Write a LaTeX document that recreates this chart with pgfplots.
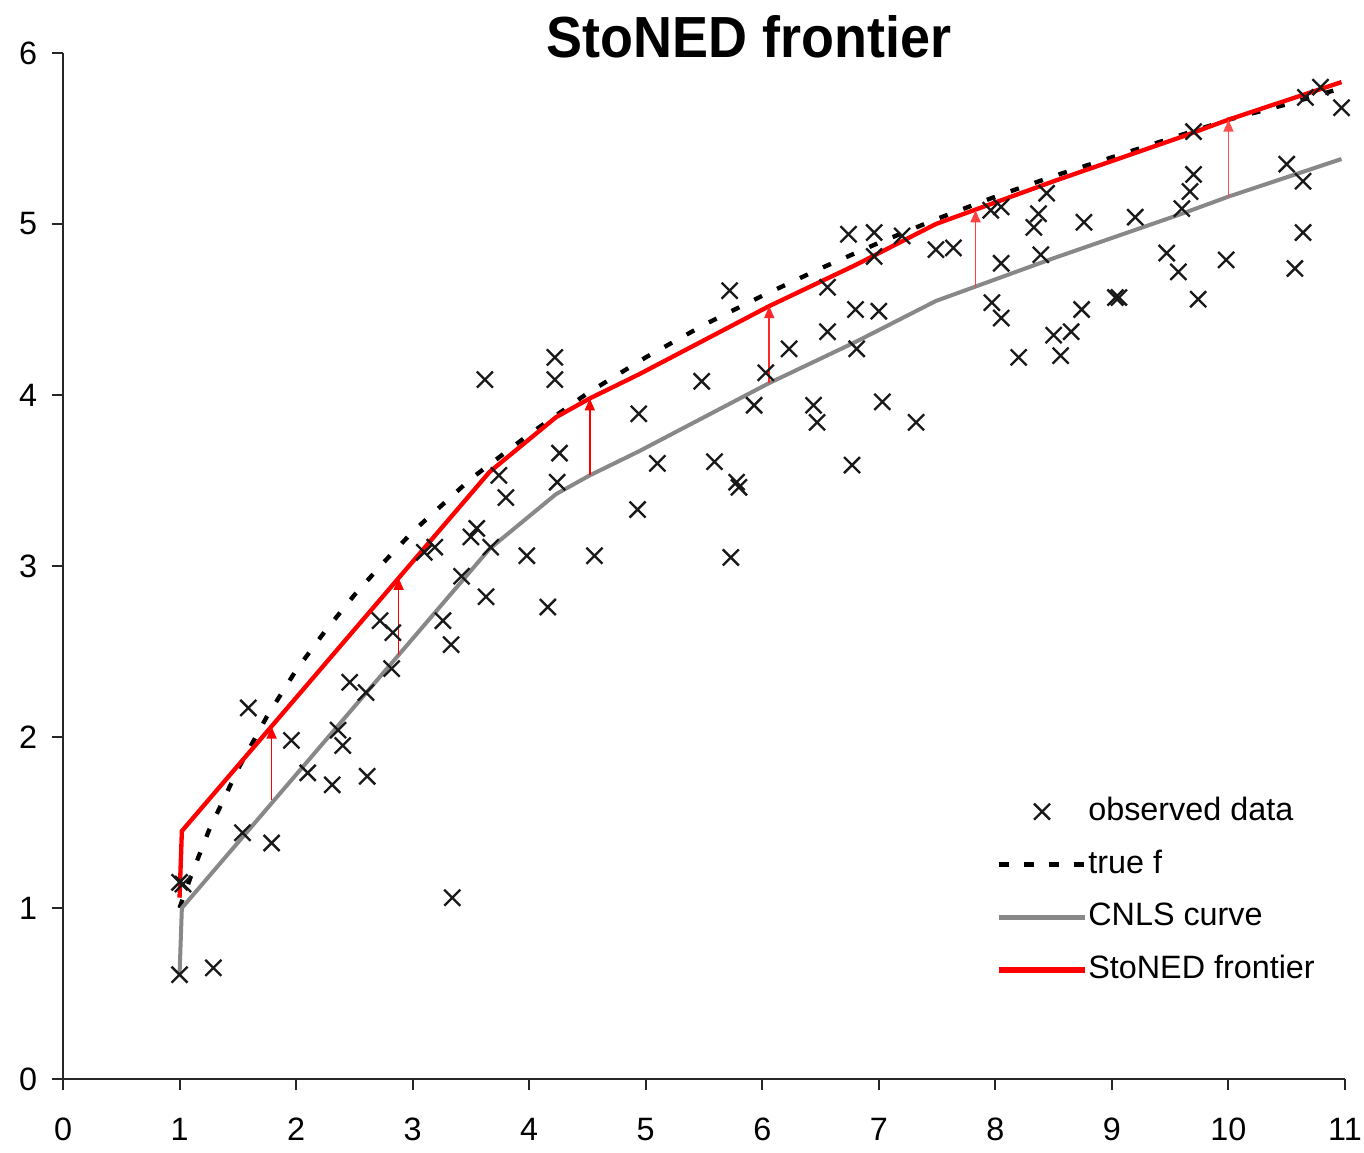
\documentclass[border=0pt]{standalone}
\usepackage{pgfplots}
\pgfplotsset{compat=1.18}
\usepackage{fontspec}
\setmainfont{Liberation Sans}
\usetikzlibrary{arrows.meta}
\definecolor{cnlsgray}{RGB}{136,136,136}
\definecolor{mk}{RGB}{25,25,25}
\pgfplotsset{
  markleg/.style={legend image code/.code={\draw[##1] plot coordinates {(13pt,0pt)};}},
  lineleg/.style={legend image code/.code={\draw[##1, line width=1.5pt] (0pt,0pt) -- (26pt,0pt);}},
  dashleg/.style={legend image code/.code={\draw[##1, dash pattern=on 3pt off 4.5pt] (0pt,0pt) -- (26pt,0pt);}},
  redleg/.style={legend image code/.code={\draw[##1, line width=1.8pt] (0pt,0pt) -- (26pt,0pt);}},
}
\begin{document}
\fontsize{9.7}{11.6}\selectfont
\begin{tikzpicture}
\begin{axis}[
  name=ax,
  scale only axis,
  width=384.6pt, height=307.8pt,
  xmin=0, xmax=11, ymin=0, ymax=6,
  xtick={0,1,...,11}, ytick={0,1,...,6},
  axis x line*=bottom, axis y line*=left,
  axis line style={line width=0.6pt, black!85},
  tick style={line width=0.6pt, black!85},
  tick align=outside, major tick length=3.3pt,
  /pgf/number format/assume math mode=true,
  tick label style={font=\fontsize{9.7}{11.6}\selectfont},
  xticklabel style={yshift=-5pt},
  yticklabel style={xshift=-1pt},
  clip=false,
  legend cell align=left,
  legend style={draw=none, fill=none, at={(rel axis cs:0.727,0.2815)}, anchor=north west,
    inner sep=0pt, row sep=3.4pt, font=\fontsize{9.7}{11.6}\selectfont,
    nodes={inner xsep=0pt}},
]
\node[anchor=base, font=\fontsize{17.4}{20}\selectfont\bfseries] at (rel axis cs:0.535,0.996) {\scalebox{0.93}[1]{StoNED frontier}};

% observed data
\addplot[only marks, mark=x, mark size=3.4pt, mk, line width=0.7pt, markleg]
coordinates {
(1.00,0.61) (1.29,0.65) (1.00,1.15) (1.03,1.14) (1.54,1.44) (1.79,1.38)
(1.59,2.17) (1.96,1.98) (2.10,1.79) (2.31,1.72) (2.36,2.04) (2.40,1.95)
(2.46,2.32) (2.60,2.26) (2.61,1.77) (2.72,2.68) (2.83,2.61) (2.82,2.40)
(3.26,2.68) (3.33,2.54) (3.42,2.94) (3.63,2.82) (3.34,1.06) (3.10,3.08)
(3.19,3.11) (3.50,3.17) (3.55,3.22) (3.67,3.11) (3.74,3.53) (3.80,3.40)
(3.98,3.06) (4.16,2.76) (4.56,3.06) (3.62,4.09) (4.22,4.22) (4.22,4.09)
(4.26,3.66) (4.24,3.49) (4.94,3.89) (4.93,3.33) (5.10,3.60) (5.48,4.08)
(5.59,3.61) (5.78,3.49) (5.80,3.46) (5.73,3.05) (5.72,4.61) (5.93,3.94)
(6.03,4.13) (6.23,4.27) (6.44,3.94) (6.47,3.84) (6.56,4.37) (6.56,4.63)
(6.74,4.94) (6.96,4.95) (6.96,4.81) (7.20,4.93) (6.80,4.50) (7.00,4.49)
(6.81,4.27) (7.03,3.96) (7.32,3.84) (6.77,3.59) (7.49,4.85) (7.64,4.86)
(7.96,5.08) (8.05,5.10) (8.05,4.77) (7.97,4.54) (8.05,4.45) (8.20,4.22)
(8.37,5.06) (8.33,4.98) (8.44,5.18) (8.39,4.82) (8.50,4.35) (8.65,4.37)
(8.56,4.23) (8.74,4.50) (8.76,5.01) (9.03,4.57) (9.06,4.57) (9.20,5.04)
(9.47,4.83) (9.57,4.72) (9.60,5.09) (9.67,5.19) (9.70,5.29) (9.70,5.54)
(9.74,4.56) (9.98,4.79) (10.50,5.35) (10.64,5.25) (10.64,4.95) (10.57,4.74)
(10.66,5.74) (10.79,5.80) (10.97,5.68)
};
\addlegendentry{observed data}

% true f
\addplot[black, line width=1.3pt, dash pattern=on 2.6pt off 5pt, dashleg]
coordinates {
(1.00,1.00) (1.10,1.19) (1.25,1.45) (1.50,1.81) (1.75,2.12) (2.00,2.39)
(2.25,2.62) (2.50,2.83) (2.75,3.02) (3.00,3.20) (3.50,3.51) (4.00,3.77)
(4.50,4.01) (5.00,4.22) (5.50,4.41) (6.00,4.58) (6.50,4.74) (7.00,4.89)
(7.50,5.03) (8.00,5.16) (8.50,5.28) (9.00,5.39) (9.50,5.50) (10.00,5.61)
(10.50,5.70) (11.00,5.80)
};
\addlegendentry{true f}

% CNLS curve
\addplot[cnlsgray, line width=1.2pt, lineleg]
coordinates {
(1.00,0.61) (1.02,1.00) (3.66,3.10) (4.23,3.42) (4.52,3.53) (4.94,3.67)
(6.06,4.07) (6.80,4.31) (7.49,4.55) (8.50,4.80) (9.60,5.06) (10.00,5.16)
(10.97,5.38)
};
\addlegendentry{CNLS curve}

% StoNED frontier
\addplot[red, line width=1.3pt, redleg]
coordinates {
(1.00,1.06) (1.02,1.45) (3.66,3.55) (4.23,3.87) (4.52,3.98) (4.94,4.12)
(6.06,4.52) (6.80,4.76) (7.49,5.00) (8.50,5.25) (9.60,5.51) (10.00,5.61)
(10.97,5.83)
};
\addlegendentry{StoNED frontier}

% arrows
\addplot[red, line width=0.5pt, -{Triangle[length=3.6pt,width=3pt]}, forget plot] coordinates {(1.79,1.63) (1.79,2.06)};
\addplot[red, line width=0.5pt, -{Triangle[length=3.6pt,width=3pt]}, forget plot] coordinates {(2.88,2.48) (2.88,2.93)};
\addplot[red, line width=0.5pt, -{Triangle[length=3.6pt,width=3pt]}, forget plot] coordinates {(4.52,3.53) (4.52,3.98)};
\addplot[red!85, line width=0.5pt, -{Triangle[length=3.6pt,width=3pt]}, forget plot] coordinates {(6.06,4.07) (6.06,4.52)};
\addplot[red!75, line width=0.5pt, -{Triangle[length=3.6pt,width=3pt]}, forget plot] coordinates {(7.83,4.63) (7.83,5.08)};
\addplot[red!70, line width=0.5pt, -{Triangle[length=3.6pt,width=3pt]}, forget plot] coordinates {(10.00,5.16) (10.00,5.61)};
\end{axis}
\pgfresetboundingbox
\path ([xshift=-18.9pt,yshift=-22.2pt]ax.south west) rectangle ([xshift=5.7pt,yshift=15.9pt]ax.north east);
\end{tikzpicture}
\end{document}
